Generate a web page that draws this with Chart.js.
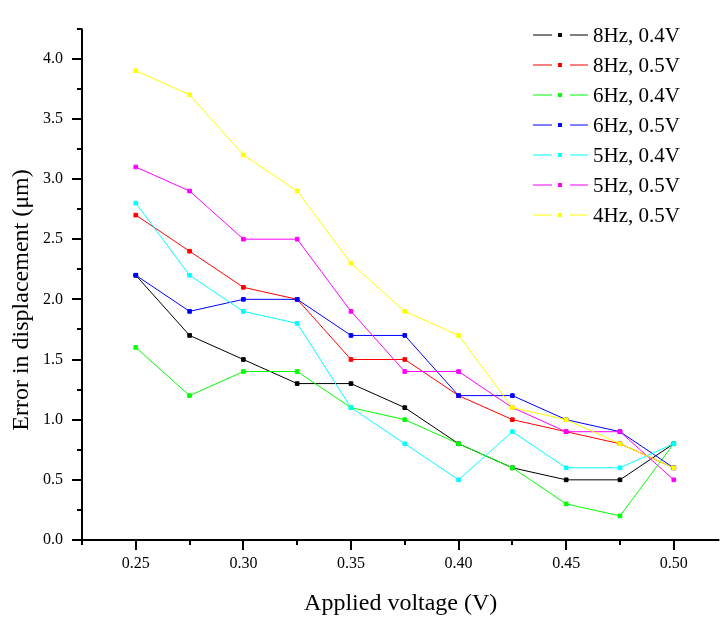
<!DOCTYPE html>
<html><head><meta charset="utf-8">
<script src="https://cdn.jsdelivr.net/npm/chart.js@4.4.0/dist/chart.umd.min.js"></script>
<style>html,body{margin:0;padding:0;background:#fff;overflow:hidden}#wrap{width:723px;height:622px;position:relative}</style>
</head><body><div id="wrap"><canvas id="c" width="723" height="622"></canvas></div>
<script>
// ---- data ----
const voltages = [0.25, 0.275, 0.30, 0.325, 0.35, 0.375, 0.40, 0.425, 0.45, 0.475, 0.50];
const err8Hz04 = [2.2, 1.7, 1.5, 1.3, 1.3, 1.1, 0.8, 0.6, 0.5, 0.5, 0.8];
const err8Hz05 = [2.7, 2.4, 2.1, 2.0, 1.5, 1.5, 1.2, 1.0, 0.9, 0.8, 0.6];
const err6Hz04 = [1.6, 1.2, 1.4, 1.4, 1.1, 1.0, 0.8, 0.6, 0.3, 0.2, 0.8];
const err6Hz05 = [2.2, 1.9, 2.0, 2.0, 1.7, 1.7, 1.2, 1.2, 1.0, 0.9, 0.6];
const err5Hz04 = [2.8, 2.2, 1.9, 1.8, 1.1, 0.8, 0.5, 0.9, 0.6, 0.6, 0.8];
const err5Hz05 = [3.1, 2.9, 2.5, 2.5, 1.9, 1.4, 1.4, 1.1, 0.9, 0.9, 0.5];
const err4Hz05 = [3.9, 3.7, 3.2, 2.9, 2.3, 1.9, 1.7, 1.1, 1.0, 0.8, 0.6];
const seriesLabels = ['8Hz, 0.4V', '8Hz, 0.5V', '6Hz, 0.4V', '6Hz, 0.5V', '5Hz, 0.4V', '5Hz, 0.5V', '4Hz, 0.5V'];
const seriesValues = [err8Hz04, err8Hz05, err6Hz04, err6Hz05, err5Hz04, err5Hz05, err4Hz05];
const seriesColors = ['#000000', '#ff0000', '#00ff00', '#0000ff', '#00ffff', '#ff00ff', '#ffff00'];
const xMajorTicks = [0.25, 0.30, 0.35, 0.40, 0.45, 0.50];
const xMinorTicks = [0.225, 0.275, 0.325, 0.375, 0.425, 0.475];
const yMajorTicks = [0.0, 0.5, 1.0, 1.5, 2.0, 2.5, 3.0, 3.5, 4.0];
const yMinorTicks = [0.25, 0.75, 1.25, 1.75, 2.25, 2.75, 3.25, 3.75, 4.25];
const xTitle = 'Applied voltage (V)';
const yTitle = 'Error in displacement (\u03bcm)';

const FONT = '"Liberation Serif", "DejaVu Serif", serif';

const datasets = seriesValues.map((vals, i) => ({
  label: seriesLabels[i],
  data: voltages.map((v, j) => ({x: v, y: vals[j]})),
  borderColor: seriesColors[i],
  backgroundColor: seriesColors[i],
  borderWidth: 1,
  pointStyle: 'rect',
  pointRadius: 2.6,
  pointBorderWidth: 1,
  pointHoverRadius: 2.6,
  tension: 0,
  order: seriesValues.length - i
}));

const axesPlugin = {
  id: 'axesPlugin',
  afterDraw(chart) {
    const ctx = chart.ctx;
    const xs = chart.scales.x, ys = chart.scales.y;
    const ca = chart.chartArea;
    ctx.save();
    ctx.strokeStyle = '#000';
    ctx.lineWidth = 2;
    ctx.beginPath();
    ctx.moveTo(ca.left, ca.top);
    ctx.lineTo(ca.left, ca.bottom);
    ctx.moveTo(ca.left - 2, ca.bottom);
    ctx.lineTo(ca.right, ca.bottom);
    ctx.stroke();
    ctx.beginPath();
    xMajorTicks.forEach(v => { const p = Math.round(xs.getPixelForValue(v)); ctx.moveTo(p, ca.bottom); ctx.lineTo(p, ca.bottom + 10); });
    xMinorTicks.forEach(v => { const p = Math.round(xs.getPixelForValue(v)); ctx.moveTo(p, ca.bottom); ctx.lineTo(p, ca.bottom + 5); });
    yMajorTicks.forEach(v => { const p = Math.round(ys.getPixelForValue(v)); ctx.moveTo(ca.left, p); ctx.lineTo(ca.left - 10, p); });
    yMinorTicks.forEach(v => { const p = Math.round(ys.getPixelForValue(v)); ctx.moveTo(ca.left, p); ctx.lineTo(ca.left - 5, p); });
    ctx.stroke();
    ctx.fillStyle = '#000';
    ctx.font = '24px ' + FONT;
    ctx.textAlign = 'center';
    ctx.textBaseline = 'middle';
    ctx.fillText(xTitle, (ca.left + ca.right) / 2, 604);
    ctx.save();
    ctx.translate(22, 300);
    ctx.rotate(-Math.PI / 2);
    ctx.fillText(yTitle, 0, 0);
    ctx.restore();
    ctx.font = '21px ' + FONT;
    ctx.textAlign = 'left';
    chart.data.datasets.forEach((ds, i) => {
      const y = 35 + 30 * i;
      ctx.strokeStyle = ds.borderColor;
      ctx.lineWidth = 1;
      ctx.beginPath();
      ctx.moveTo(533, y); ctx.lineTo(552, y);
      ctx.moveTo(570, y); ctx.lineTo(588, y);
      ctx.stroke();
      ctx.fillStyle = ds.borderColor;
      ctx.fillRect(558, y - 2, 4, 4);
      ctx.fillStyle = '#000';
      ctx.fillText(ds.label, 593, y + 1);
    });
    ctx.restore();
  }
};

new Chart(document.getElementById('c'), {
  type: 'line',
  data: { datasets },
  options: {
    responsive: false,
    devicePixelRatio: 1,
    animation: false,
    events: [],
    layout: { padding: { left: 0, right: 0, top: 9, bottom: 0 } },
    plugins: { legend: { display: false }, title: { display: false }, tooltip: { enabled: false } },
    scales: {
      x: {
        type: 'linear',
        min: 0.225, max: 0.5212,
        afterBuildTicks: s => { s.ticks = xMajorTicks.map(v => ({value: v})); },
        afterFit: s => { s.height = 82; },
        grid: { display: true, drawOnChartArea: false, drawTicks: false, color: 'rgba(0,0,0,0)' },
        border: { display: false },
        ticks: { color: '#000', padding: 14, maxRotation: 0, autoSkip: false, font: { family: FONT, size: 16 }, callback: v => v.toFixed(2) }
      },
      y: {
        type: 'linear',
        min: 0, max: 4.25,
        afterBuildTicks: s => { s.ticks = yMajorTicks.map(v => ({value: v})); },
        afterFit: s => { s.width = 82; },
        grid: { display: true, drawOnChartArea: false, drawTicks: false, color: 'rgba(0,0,0,0)' },
        border: { display: false },
        ticks: { color: '#000', padding: 19, autoSkip: false, font: { family: FONT, size: 16 }, callback: v => v.toFixed(1) }
      }
    }
  },
  plugins: [axesPlugin]
});
</script>
</body></html>
